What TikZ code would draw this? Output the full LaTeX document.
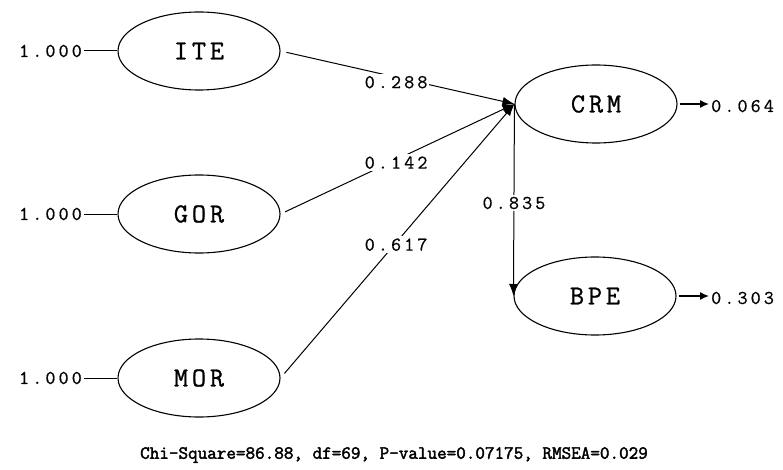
\documentclass[tikz,border=0pt]{standalone}
\usepackage{fontspec}
\usetikzlibrary{shapes.geometric,arrows.meta}
\newfontfamily\namefont[LetterSpace=14,FakeBold=0.9]{Latin Modern Mono}
\newfontfamily\numfont[LetterSpace=16,FakeBold=0.7]{Latin Modern Mono}
\newfontfamily\fitfont[FakeBold=2.2]{Latin Modern Mono}
\begin{document}
\begin{tikzpicture}[x=1pt,y=-1pt,
  latent/.style={ellipse,draw,line width=1.1pt,minimum width=162pt,minimum height=78pt,inner sep=0pt,font=\namefont\fontsize{27.5}{27.5}\selectfont},
  coef/.style={font=\numfont\fontsize{19.5}{19.5}\selectfont,inner sep=2pt},
  coefw/.style={coef,fill=white},
  path/.style={line width=1pt,-{Latex[length=12pt,width=9pt]}},
  link/.style={line width=1pt},
  resid/.style={line width=1.4pt,-{Latex[length=9pt,width=8pt]}}]
\useasboundingbox (0,0) rectangle (783,470);

% exogenous latent variables
\node[latent] (ITE) at (199,51) {ITE};
\node[latent] (GOR) at (199,214) {GOR};
\node[latent] (MOR) at (199,378) {MOR};
% endogenous latent variables
\node[latent] (CRM) at (596,104) {CRM};
\node[latent] (BPE) at (595,296) {BPE};

% fixed variances
\node[coef,anchor=east] (v1) at (84,51) {1.000};
\node[coef,anchor=east] (v2) at (84,214) {1.000};
\node[coef,anchor=east] (v3) at (84,378) {1.000};
\draw[link] (v1) -- (ITE);
\draw[link] (v2) -- (GOR);
\draw[link] (v3) -- (MOR);

% structural paths
\draw[path,shorten <=6pt] (ITE.east) -- node[coefw,pos=0.494,yshift=-5pt] {0.288} (CRM.west);
\draw[path,shorten <=5pt] (GOR.east) -- node[coefw,pos=0.494,yshift=-3pt] {0.142} (CRM.west);
\draw[path,shorten <=6pt] (MOR.east) -- node[coefw,pos=0.494,yshift=-2pt] {0.617} (CRM.west);
\draw[path] (CRM.west) -- node[coefw,pos=0.5,yshift=-3pt] {0.835} (BPE.west);

% error variances
\node[coef,anchor=west] (e1) at (709,106) {0.064};
\node[coef,anchor=west] (e2) at (709,298) {0.303};
\draw[resid,shorten <=2pt] (CRM.east) -- (e1.west |- CRM.east);
\draw[resid,shorten <=2pt] (BPE.east) -- (e2.west |- BPE.east);

% fit statistics
\node[font=\fitfont\fontsize{18.6}{18.6}\selectfont] (fit) at (394,455)
  {Chi-Square=86.88, df=69, P-value=0.07175, RMSEA=0.029};
\end{tikzpicture}
\end{document}
